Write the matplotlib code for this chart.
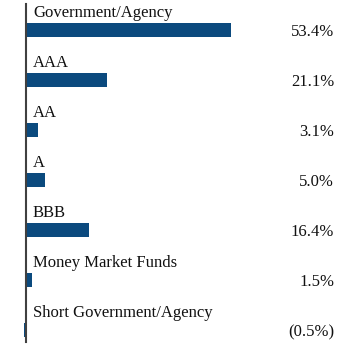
import matplotlib
matplotlib.use("Agg")
import matplotlib.pyplot as plt

categories = ["Government/Agency", "AAA", "AA", "A", "BBB",
              "Money Market Funds", "Short Government/Agency"]
values = [53.4, 21.1, 3.1, 5.0, 16.4, 1.5, -0.5]
value_labels = ["53.4%", "21.1%", "3.1%", "5.0%", "16.4%", "1.5%", "(0.5%)"]

plt.rcParams['font.family'] = ['Liberation Serif', 'DejaVu Serif']

fig = plt.figure(figsize=(3.6, 3.46), dpi=100)
ax = fig.add_axes([0, 0, 1, 1])
ax.set_axis_off()

px = 205 / 53.4  # pixels per percent
ax.set_xlim(-26 / px, (360 - 26) / px)
ax.set_ylim(6.32, -0.6)

color = "#0b4a7e"
ypos = list(range(len(categories)))
ax.barh(ypos, values, height=0.27, color=color, zorder=2)

ax.plot([0, 0], [-0.52, 6.24], color="#404040", lw=1.5, zorder=3)

for y, cat, lab in zip(ypos, categories, value_labels):
    ax.text(7 / px, y - 0.26, cat, fontsize=12, ha="left", va="baseline", color="#111111")
    ax.text(308 / px, y + 0.13, lab, fontsize=12, ha="right", va="baseline", color="#111111")

fig.savefig("out.png", dpi=100)
